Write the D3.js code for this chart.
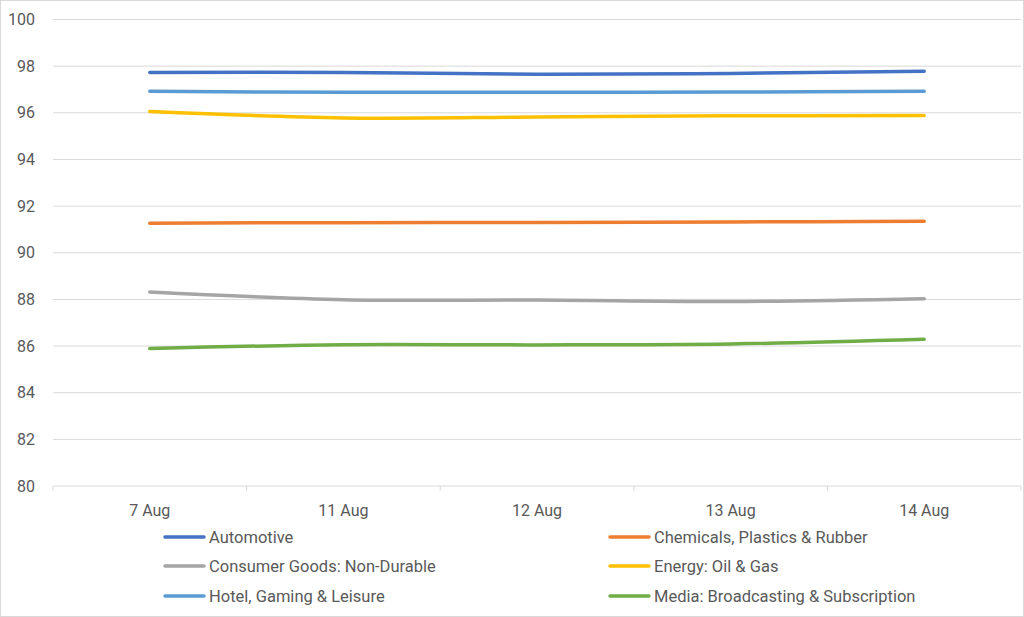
<!DOCTYPE html>
<html>
<head>
<meta charset="utf-8">
<script src="https://cdn.jsdelivr.net/npm/d3@7"></script>
<style>
	body { margin: 0; background: #fff; }
	svg text { font-family: Roboto, "Noto Sans", sans-serif; fill: #595959; }
</style>
</head>
<body>
<svg id="chart"></svg>
<script>
var categories = [ '7 Aug', '11 Aug', '12 Aug', '13 Aug', '14 Aug' ];
var seriesNames = [
	'Automotive',
	'Chemicals, Plastics & Rubber',
	'Consumer Goods: Non-Durable',
	'Energy: Oil & Gas',
	'Hotel, Gaming & Leisure',
	'Media: Broadcasting & Subscription'
];
var automotive = [ 97.73, 97.73, 97.65, 97.69, 97.78 ];
var chemicals = [ 91.27, 91.29, 91.30, 91.32, 91.35 ];
var consumerGoods = [ 88.32, 87.99, 87.97, 87.91, 88.03 ];
var energy = [ 96.06, 95.78, 95.82, 95.87, 95.88 ];
var hotel = [ 96.92, 96.88, 96.88, 96.89, 96.92 ];
var media = [ 85.89, 86.06, 86.05, 86.09, 86.29 ];
var yTicks = [ 80, 82, 84, 86, 88, 90, 92, 94, 96, 98, 100 ];

var seriesValues = [ automotive, chemicals, consumerGoods, energy, hotel, media ];
var colors = [ '#4472C4', '#ED7D31', '#A5A5A5', '#FFC000', '#5B9BD5', '#70AD47' ];

var width = 1024, height = 617;
var plot = { left: 53, right: 1021, top: 19.5, bottom: 486 };

var svg = d3.select( '#chart' ).attr( 'width', width ).attr( 'height', height );

// chart area border
svg.append( 'rect' )
	.attr( 'x', 0.5 ).attr( 'y', 0.5 )
	.attr( 'width', width - 1 ).attr( 'height', height - 1 )
	.attr( 'fill', '#fff' ).attr( 'stroke', '#d9d9d9' );

var x = d3.scaleBand().domain( categories ).range( [ plot.left, plot.right ] );
var y = d3.scaleLinear().domain( [ 80, 100 ] ).range( [ plot.bottom, plot.top ] );

// gridlines
svg.append( 'g' ).selectAll( 'line' )
	.data( yTicks.slice( 1 ) )
	.enter()
	.append( 'line' )
	.attr( 'x1', plot.left ).attr( 'x2', plot.right )
	.attr( 'y1', function ( d ) { return y( d ); } )
	.attr( 'y2', function ( d ) { return y( d ); } )
	.attr( 'stroke', '#d9d9d9' ).attr( 'stroke-width', 1 );

// y axis labels
var yAxis = d3.axisLeft( y ).tickValues( yTicks ).tickSize( 0 ).tickPadding( 18 );
var yG = svg.append( 'g' ).attr( 'transform', 'translate(' + plot.left + ',0)' ).call( yAxis );
yG.select( '.domain' ).remove();
yG.selectAll( 'text' ).style( 'font-size', '16px' ).attr( 'fill', '#595959' );

// x axis with tick marks between categories
var xG = svg.append( 'g' ).attr( 'transform', 'translate(0,' + plot.bottom + ')' );
xG.append( 'line' )
	.attr( 'x1', plot.left ).attr( 'x2', plot.right )
	.attr( 'stroke', '#d9d9d9' ).attr( 'stroke-width', 1 );
var boundaries = categories.map( function ( c ) { return x( c ); } ).concat( [ plot.right ] );
xG.selectAll( '.tick-mark' )
	.data( boundaries )
	.enter()
	.append( 'line' )
	.attr( 'class', 'tick-mark' )
	.attr( 'x1', function ( d ) { return d; } )
	.attr( 'x2', function ( d ) { return d; } )
	.attr( 'y1', 0 ).attr( 'y2', 5 )
	.attr( 'stroke', '#d9d9d9' );
xG.selectAll( '.cat' )
	.data( categories )
	.enter()
	.append( 'text' )
	.attr( 'class', 'cat' )
	.attr( 'x', function ( d ) { return x( d ) + x.bandwidth() / 2; } )
	.attr( 'y', 24 )
	.attr( 'dy', '0.35em' )
	.attr( 'text-anchor', 'middle' )
	.style( 'font-size', '16px' )
	.text( function ( d ) { return d; } );

// series lines, smoothed like Excel
var line = d3.line()
	.x( function ( d, i ) { return x( categories[i] ) + x.bandwidth() / 2; } )
	.y( function ( d ) { return y( d ); } )
	.curve( d3.curveCatmullRom.alpha( 0.5 ) );

svg.append( 'g' ).selectAll( 'path' )
	.data( seriesValues )
	.enter()
	.append( 'path' )
	.attr( 'd', function ( d ) { return line( d ); } )
	.attr( 'fill', 'none' )
	.attr( 'stroke', function ( d, i ) { return colors[i]; } )
	.attr( 'stroke-width', 3.5 )
	.attr( 'stroke-linecap', 'round' );

// legend, two columns
var legendCols = [ 165, 610 ];
var legendRows = [ 537, 566, 596 ];
var legend = svg.append( 'g' ).selectAll( 'g' )
	.data( seriesNames )
	.enter()
	.append( 'g' )
	.attr( 'transform', function ( d, i ) {
		return 'translate(' + legendCols[i % 2] + ',' + legendRows[Math.floor( i / 2 )] + ')';
	} );
legend.append( 'line' )
	.attr( 'x1', 0 ).attr( 'x2', 39 )
	.attr( 'stroke', function ( d, i ) { return colors[i]; } )
	.attr( 'stroke-width', 3.5 )
	.attr( 'stroke-linecap', 'round' );
legend.append( 'text' )
	.attr( 'x', 44 )
	.attr( 'dy', '0.35em' )
	.style( 'font-size', '16.5px' )
	.text( function ( d ) { return d; } );
</script>
</body>
</html>
